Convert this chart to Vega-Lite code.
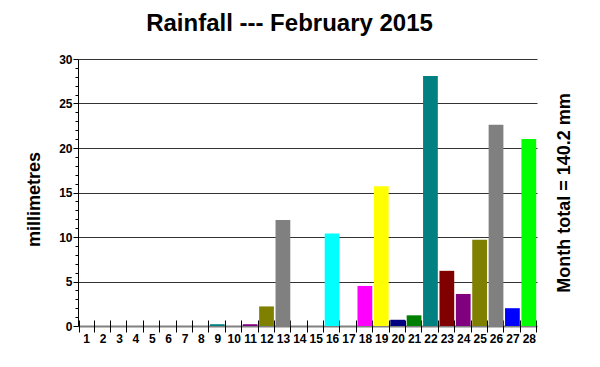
{
  "$schema": "https://vega.github.io/schema/vega-lite/v6.json",
  "width": 459,
  "height": 267,
  "autosize": {"type": "none"},
  "padding": {"left": 78, "top": 59, "right": 63, "bottom": 41},
  "background": "white",
  "config": {"view": {"stroke": null}, "font": "Liberation Sans"},
  "title": {
    "text": "Rainfall --- February 2015",
    "font": "Liberation Sans",
    "fontSize": 24,
    "fontWeight": "bold",
    "color": "black",
    "anchor": "middle",
    "frame": "group",
    "dx": -18,
    "offset": 17
  },
  "data": {
    "values": [
      {"day": 1, "mm": 0}, {"day": 2, "mm": 0}, {"day": 3, "mm": 0}, {"day": 4, "mm": 0},
      {"day": 5, "mm": 0}, {"day": 6, "mm": 0}, {"day": 7, "mm": 0}, {"day": 8, "mm": 0},
      {"day": 9, "mm": 0.2}, {"day": 10, "mm": 0}, {"day": 11, "mm": 0.2}, {"day": 12, "mm": 2.2},
      {"day": 13, "mm": 11.9}, {"day": 14, "mm": 0}, {"day": 15, "mm": 0}, {"day": 16, "mm": 10.4},
      {"day": 17, "mm": 0}, {"day": 18, "mm": 4.5}, {"day": 19, "mm": 15.7}, {"day": 20, "mm": 0.7},
      {"day": 21, "mm": 1.2}, {"day": 22, "mm": 28.1}, {"day": 23, "mm": 6.2}, {"day": 24, "mm": 3.6},
      {"day": 25, "mm": 9.7}, {"day": 26, "mm": 22.6}, {"day": 27, "mm": 2.0}, {"day": 28, "mm": 21.0}
    ]
  },
  "layer": [
    {
      "mark": {"type": "bar"},
      "encoding": {
        "x": {
          "field": "day",
          "type": "ordinal",
          "scale": {"paddingInner": 0.1, "paddingOuter": 0.05},
          "axis": {
            "title": null,
            "labelAngle": 0,
            "labelFontSize": 12,
            "labelFontWeight": "bold",
            "labelColor": "black",
            "labelPadding": 1,
            "tickBand": "extent",
            "tickSize": 12,
            "tickColor": "black",
            "tickWidth": 1,
            "offset": -6,
            "domain": false,
            "grid": false
          }
        },
        "y": {
          "field": "mm",
          "type": "quantitative",
          "scale": {"domain": [0, 30], "nice": false},
          "axis": {
            "title": "millimetres",
            "titleFontSize": 18,
            "titleFontWeight": "bold",
            "titleColor": "black",
            "titlePadding": 15,
            "titleY": 140,
            "values": [0,1,2,3,4,5,6,7,8,9,10,11,12,13,14,15,16,17,18,19,20,21,22,23,24,25,26,27,28,29,30],
            "labelExpr": "datum.value % 5 === 0 ? datum.label : ''",
            "labelFontSize": 12,
            "labelFontWeight": "bold",
            "labelColor": "black",
            "labelPadding": 1,
            "tickColor": "black",
            "tickSize": {"condition": {"test": "datum.value % 5 === 0", "value": 5}, "value": 3},
            "domainColor": "black",
            "domainWidth": 1,
            "grid": true,
            "gridOpacity": {"condition": {"test": "datum.value % 5 !== 0", "value": 0}, "value": 1},
            "gridColor": {"condition": {"test": "datum.value === 0", "value": "#808080"}, "value": "#333333"},
            "gridWidth": {"condition": {"test": "datum.value === 0", "value": 2}, "value": 1}
          }
        },
        "color": {
          "field": "day",
          "type": "ordinal",
          "legend": null,
          "scale": {
            "domain": [1,2,3,4,5,6,7,8,9,10,11,12,13,14,15,16,17,18,19,20,21,22,23,24,25,26,27,28],
            "range": ["white","white","white","white","white","white","white","white","#008080","white","#800080","#808000","#808080","white","white","#00FFFF","white","#FF00FF","#FFFF00","#000080","#008000","#008080","#800000","#800080","#808000","#808080","#0000FF","#00FF00"]
          }
        }
      }
    },
    {
      "mark": {"type": "bar", "opacity": 0},
      "encoding": {
        "x": {"field": "day", "type": "ordinal"},
        "y": {
          "field": "mm",
          "type": "quantitative",
          "axis": {
            "orient": "right",
            "title": "Month total = 140.2 mm",
            "titleFontSize": 18,
            "titleFontWeight": "bold",
            "titleColor": "black",
            "titleAngle": 270,
            "titlePadding": 36,
            "labels": false,
            "ticks": false,
            "domain": false,
            "grid": false
          }
        }
      }
    }
  ],
  "resolve": {"axis": {"y": "independent"}}
}
